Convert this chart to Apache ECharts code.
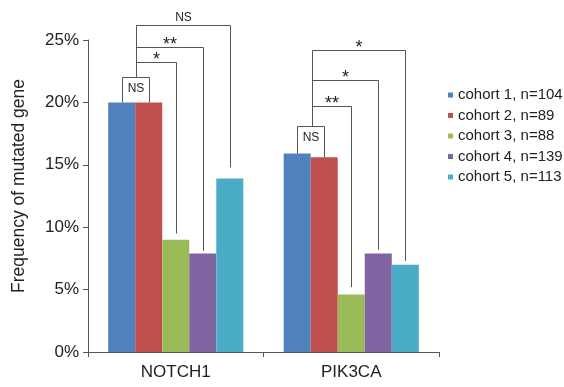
<!DOCTYPE html>
<html>
<head>
<meta charset="utf-8">
<script src="https://cdn.jsdelivr.net/npm/echarts@6/dist/echarts.min.js"></script>
<style>
  html, body { margin: 0; padding: 0; background: #fff; }
  #chart { width: 564px; height: 387px; }
</style>
</head>
<body>
<div id="chart"></div>
<script>
// Mutation frequency (%) of two genes across five cohorts
const genes = ['NOTCH1', 'PIK3CA'];
const cohorts = ['cohort 1, n=104', 'cohort 2, n=89', 'cohort 3, n=88', 'cohort 4, n=139', 'cohort 5, n=113'];
const cohort1 = [20.0, 15.9];
const cohort2 = [20.0, 15.6];
const cohort3 = [9.0, 4.6];
const cohort4 = [7.9, 7.9];
const cohort5 = [13.9, 7.0];
const yTicks = [0, 5, 10, 15, 20, 25];

// Significance comparisons: gene index, cohort a, cohort b,
// bracket height (%), leg end over cohort b (%), label
const compGene  = [0, 0, 0, 0, 1, 1, 1, 1];
const compFrom  = [1, 1, 1, 1, 1, 1, 1, 1];
const compTo    = [2, 3, 4, 5, 2, 3, 4, 5];
const compLevel = [22.0, 23.2, 24.4, 26.2, 18.1, 19.7, 21.8, 24.2];
const compEnd   = [20.0, 9.5, 8.1, 14.8, 15.6, 5.2, 8.2, 7.3];
const compText  = ['NS', '*', '**', 'NS', 'NS', '**', '*', '*'];

const values = [cohort1, cohort2, cohort3, cohort4, cohort5];
const colors = ['#4F81BD', '#C0504D', '#9BBB59', '#8064A2', '#4BACC6'];
const FONT = '"Liberation Sans", Arial, sans-serif';
const CAT_GAP = 0.23;
const LINE = '#555';

const chart = echarts.init(document.getElementById('chart'));

const barSeries = cohorts.map((name, i) => ({
  name: name,
  type: 'bar',
  data: values[i],
  barGap: 0,
  barCategoryGap: (CAT_GAP * 100) + '%',
  itemStyle: { color: colors[i] },
  emphasis: { disabled: true },
  z: 2
}));

function renderBracket(params, api) {
  const k = params.dataIndex;
  const g = compGene[k];
  const a = compFrom[k];
  const b = compTo[k];
  const center = api.coord([g, 0])[0];
  const band = api.size([1, 0])[0];
  const bw = band * (1 - CAT_GAP) / cohorts.length;
  const mid = (cohorts.length + 1) / 2;
  const barX = c => center + (c - mid) * bw;
  const yOf = v => api.coord([g, v])[1];
  const yLevel = Math.round(yOf(compLevel[k])) + 0.5;
  const yEnd = yOf(compEnd[k]);
  const style = { stroke: LINE, lineWidth: 1, fill: null };
  const children = [];

  if (b === a + 1) {
    // Closed box between neighbouring cohorts, label inside
    const x1 = Math.round(barX(a)) + 0.5;
    const x2 = Math.round(barX(b)) + 0.5;
    const yA = yOf(values[a - 1][g]);
    children.push({
      type: 'polyline',
      shape: { points: [[x1, yA], [x1, yLevel], [x2, yLevel], [x2, yEnd]] },
      style: style
    });
    children.push({
      type: 'text',
      style: {
        text: compText[k], x: (x1 + x2) / 2, y: yLevel + 11,
        align: 'center', verticalAlign: 'middle',
        font: '12px ' + FONT, fill: '#222'
      }
    });
  } else {
    // Bracket from the shared stem over to cohort b
    const stemX = Math.round(center + (a + 0.5 - mid) * bw) + 1.5;
    const tx = Math.round(barX(b)) + 0.5;
    // stem starts at the top of the neighbour box for this gene
    let base = yLevel;
    for (let j = 0; j < compGene.length; j++) {
      if (compGene[j] === g && compFrom[j] === a && compTo[j] === a + 1) {
        base = Math.round(yOf(compLevel[j])) + 0.5;
      }
    }
    children.push({
      type: 'polyline',
      shape: { points: [[stemX, base], [stemX, yLevel], [tx, yLevel], [tx, yEnd]] },
      style: style
    });
    const isStar = compText[k].indexOf('*') >= 0;
    children.push({
      type: 'text',
      style: {
        text: compText[k], x: (stemX + tx) / 2,
        y: isStar ? yLevel - 2 : yLevel - 8,
        align: 'center', verticalAlign: 'middle',
        font: (isStar ? '18px ' : '12px ') + FONT, fill: '#222'
      }
    });
  }
  return { type: 'group', children: children };
}

const option = {
  animation: false,
  backgroundColor: '#fff',
  grid: { left: 88, right: 125, top: 40, bottom: 35, containLabel: false },
  legend: {
    data: cohorts,
    orient: 'vertical',
    left: 443,
    top: 80,
    icon: 'rect',
    itemWidth: 5,
    itemHeight: 5,
    itemGap: 0.5,
    selectedMode: false,
    textStyle: { fontFamily: FONT, fontSize: 15, color: '#222', lineHeight: 20 }
  },
  xAxis: {
    type: 'category',
    data: genes,
    axisLine: { lineStyle: { color: LINE, width: 1 } },
    axisTick: { show: true, alignWithLabel: false, length: 5, lineStyle: { color: LINE } },
    axisLabel: { fontFamily: FONT, fontSize: 17, color: '#222', margin: 12 }
  },
  yAxis: {
    type: 'value',
    min: yTicks[0],
    max: yTicks[yTicks.length - 1],
    interval: yTicks[1] - yTicks[0],
    axisLine: { show: true, lineStyle: { color: LINE, width: 1 } },
    axisTick: { show: true, length: 5, lineStyle: { color: LINE } },
    splitLine: { show: false },
    axisLabel: { fontFamily: FONT, fontSize: 17, color: '#222', margin: 9, formatter: '{value}%' }
  },
  graphic: [{
    type: 'text',
    x: 19, y: 186,
    rotation: Math.PI / 2,
    style: {
      text: 'Frequency of mutated gene',
      align: 'center', verticalAlign: 'middle',
      font: '17.5px ' + FONT, fill: '#222'
    }
  }],
  series: barSeries.concat([{
    type: 'custom',
    name: 'significance',
    clip: false,
    silent: true,
    z: 5,
    renderItem: renderBracket,
    encode: { x: 0, y: 1 },
    data: compGene.map((g, k) => [g, compLevel[k]])
  }])
};

chart.setOption(option);
</script>
</body>
</html>
